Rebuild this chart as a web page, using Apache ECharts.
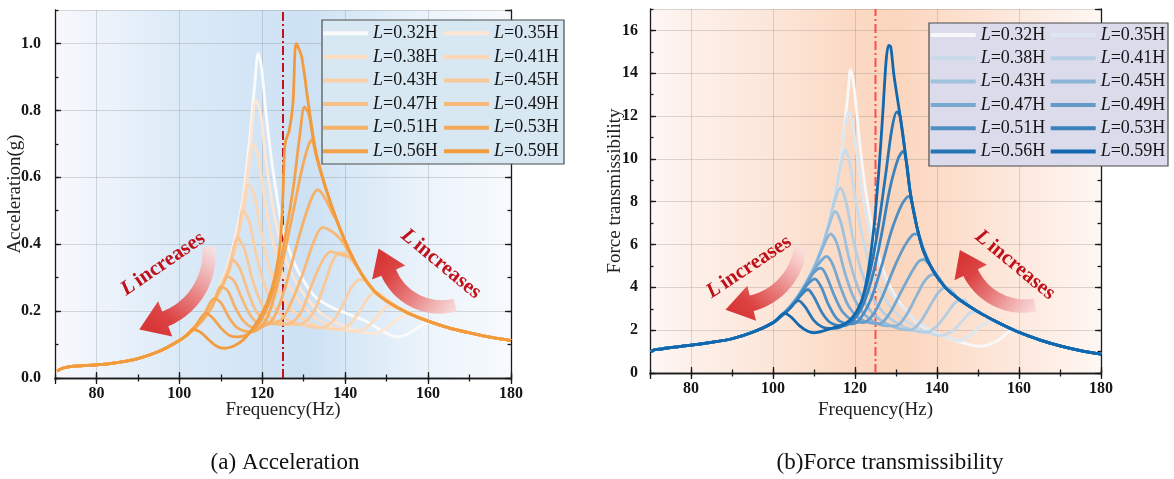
<!DOCTYPE html>
<html>
<head>
<meta charset="utf-8">
<script src="https://cdn.jsdelivr.net/npm/echarts@6.0.0/dist/echarts.min.js"></script>
<style>
  html, body { margin: 0; padding: 0; background: #fff; width: 1174px; height: 479px; overflow: hidden; }
  #accChart { position: absolute; left: 0; top: 0; width: 590px; height: 479px; }
  #ftChart { position: absolute; left: 590px; top: 0; width: 584px; height: 479px; }
</style>
</head>
<body>
<div id="accChart"></div>
<div id="ftChart"></div>
<script>
// ---------- data ----------
const lengthRatios = ['0.32', '0.35', '0.38', '0.41', '0.43', '0.45', '0.47', '0.49', '0.51', '0.53', '0.56', '0.59'];
const seriesNames = lengthRatios.map(r => 'L=' + r + 'H');
const legendColumnA = ['L=0.32H', 'L=0.38H', 'L=0.43H', 'L=0.47H', 'L=0.51H', 'L=0.56H'];
const legendColumnB = ['L=0.35H', 'L=0.41H', 'L=0.45H', 'L=0.49H', 'L=0.53H', 'L=0.59H'];
const excitationFreq = 125;

// Acceleration (g) vs frequency (Hz)
const accLow = [[70.5, 0.021], [72, 0.03], [74, 0.035], [77, 0.037], [80, 0.039], [85, 0.046], [90, 0.058], [95, 0.079], [100, 0.112]];
const accHigh = [[128.6, 1.013], [129.5, 0.96], [131, 0.83], [133, 0.67], [135.5, 0.56], [138, 0.47], [141, 0.38], [144, 0.31], [147, 0.26], [150, 0.23], [155, 0.195], [160, 0.17], [165, 0.15], [170, 0.135], [175, 0.122], [180, 0.112]];

const acc032 = [[102, 0.135], [104, 0.16], [106, 0.19], [108, 0.23], [110, 0.28], [112, 0.35], [114, 0.45], [115.5, 0.55], [117, 0.72], [118.2, 0.88], [119, 0.97], [119.8, 0.93], [121, 0.78], [122.6, 0.62], [125, 0.44], [127.5, 0.35], [130, 0.29], [133, 0.24], [137, 0.21], [141, 0.19], [145, 0.17], [149, 0.14], [152.5, 0.123], [155, 0.13], [157.5, 0.15], [160, 0.165]];
const acc035 = [[102, 0.135], [104, 0.16], [106, 0.19], [108, 0.23], [110, 0.28], [112, 0.345], [114, 0.44], [115.5, 0.54], [117, 0.68], [118.5, 0.83], [119.6, 0.79], [121, 0.64], [123, 0.48], [125.5, 0.36], [128, 0.29], [131, 0.235], [134, 0.195], [138, 0.165], [142, 0.145], [147, 0.132], [150, 0.15], [152.5, 0.175], [155, 0.19], [157, 0.188], [160, 0.172]];
const acc038 = [[102, 0.134], [104, 0.158], [106, 0.188], [108, 0.228], [110, 0.277], [112, 0.34], [114, 0.43], [116, 0.56], [117.8, 0.70], [119, 0.66], [120.5, 0.54], [122.5, 0.41], [125, 0.31], [128, 0.245], [131, 0.2], [134, 0.17], [138, 0.148], [143, 0.138], [146, 0.16], [148.5, 0.195], [150.5, 0.215], [152.5, 0.212], [155, 0.198]];
const acc041 = [[102, 0.133], [104, 0.157], [106, 0.186], [108, 0.226], [110, 0.274], [112, 0.335], [114, 0.42], [115.5, 0.5], [116.6, 0.577], [118, 0.55], [119.5, 0.45], [121.5, 0.34], [124, 0.26], [127, 0.205], [130, 0.175], [134, 0.152], [138, 0.145], [141, 0.16], [143.5, 0.2], [145.5, 0.24], [147.5, 0.255], [150, 0.235]];
const acc043 = [[102, 0.132], [104, 0.156], [106, 0.185], [108, 0.224], [110, 0.27], [112, 0.33], [114, 0.41], [115.3, 0.5], [116.8, 0.47], [118.5, 0.37], [120.5, 0.28], [123, 0.21], [126, 0.175], [130, 0.158], [134, 0.15], [137, 0.17], [139.5, 0.22], [141.5, 0.27], [143.5, 0.295], [145.5, 0.285]];
const acc045 = [[102, 0.131], [104, 0.155], [106, 0.183], [108, 0.222], [110, 0.268], [112, 0.33], [114.1, 0.418], [115.6, 0.39], [117.5, 0.3], [119.5, 0.23], [122, 0.18], [125, 0.163], [128, 0.16], [130, 0.165], [132.5, 0.2], [135, 0.28], [137, 0.35], [138.8, 0.375], [140.5, 0.37], [142.5, 0.34]];
const acc047 = [[102, 0.13], [104, 0.154], [106, 0.182], [108, 0.22], [110, 0.265], [112, 0.32], [112.9, 0.353], [114.5, 0.33], [116.5, 0.26], [118.5, 0.2], [121, 0.17], [124, 0.16], [127, 0.165], [129.5, 0.2], [132, 0.28], [134.5, 0.35], [136.5, 0.378], [138.5, 0.37], [141, 0.36]];
const acc049 = [[102, 0.13], [104, 0.153], [106, 0.18], [108, 0.218], [110, 0.265], [111.7, 0.303], [113.2, 0.29], [115, 0.24], [117, 0.19], [119.5, 0.16], [122.5, 0.163], [125, 0.18], [127.5, 0.24], [130, 0.32], [132.5, 0.41], [134.5, 0.45], [136.5, 0.44], [138.5, 0.42], [141, 0.375]];
const acc051 = [[102, 0.13], [104, 0.152], [106, 0.178], [108, 0.215], [110.1, 0.273], [111.7, 0.26], [113.5, 0.21], [115.5, 0.17], [118, 0.15], [120, 0.153], [122.5, 0.175], [125, 0.25], [127.5, 0.36], [130, 0.47], [132, 0.54], [133.4, 0.563], [135, 0.54], [137, 0.49]];
const acc053 = [[102, 0.13], [104, 0.152], [106, 0.19], [108.4, 0.238], [110, 0.225], [112, 0.18], [114, 0.15], [117.3, 0.138], [119.5, 0.15], [121.5, 0.19], [123.5, 0.27], [125.5, 0.38], [127.5, 0.5], [129.5, 0.62], [131, 0.69], [131.9, 0.712], [133, 0.665], [134.5, 0.6]];
const acc056 = [[102, 0.13], [104, 0.158], [106.4, 0.193], [108, 0.18], [110, 0.15], [112, 0.128], [114.1, 0.123], [116.5, 0.13], [119, 0.16], [121.5, 0.22], [123.5, 0.3], [125.5, 0.42], [127.5, 0.57], [129, 0.72], [130.2, 0.81], [131.2, 0.79], [132.2, 0.72]];
const acc059 = [[102, 0.13], [103.2, 0.145], [105, 0.138], [107, 0.115], [109, 0.095], [110.9, 0.089], [113, 0.095], [115.5, 0.115], [118.5, 0.163], [121, 0.22], [123, 0.3], [124.3, 0.4], [125, 0.55], [125.5, 0.7], [126.5, 0.74], [127.4, 0.82], [128.2, 1.0]];

// Force transmissibility vs frequency (Hz)
const ftLow = [[70.3, 0.98], [71, 1.08], [73, 1.13], [75, 1.19], [80, 1.3], [85, 1.43], [90, 1.6], [95, 1.9], [100, 2.35]];
const ftHigh = [[128.2, 15.3], [128.7, 15.25], [129.5, 13.9], [131, 12.0], [132.5, 9.9], [133.5, 8.4], [135, 6.9], [136.7, 5.7], [139, 4.8], [142, 4.0], [145, 3.5], [148, 3.1], [151, 2.75], [155, 2.35], [160, 1.9], [165, 1.55], [170, 1.27], [175, 1.05], [180, 0.88]];

const ft032 = [[102, 2.7], [104, 3.1], [106, 3.6], [108, 4.25], [110, 5.0], [112, 6.0], [113.5, 7.0], [115, 8.3], [116.5, 10.0], [117.6, 11.8], [118.4, 13.3], [118.9, 14.17], [119.6, 13.6], [120.5, 12.0], [121.7, 9.8], [123, 8.0], [125, 6.0], [127, 4.7], [129, 3.85], [132, 3.0], [136, 2.25], [140, 1.85], [144, 1.55], [148, 1.33], [150.6, 1.25], [153, 1.35], [155.5, 1.6], [158, 1.95]];
const ft035 = [[102, 2.7], [104, 3.1], [106, 3.6], [108, 4.25], [110, 5.0], [112, 6.0], [113.5, 7.0], [115, 8.3], [116.5, 10.0], [117.6, 11.6], [118.4, 12.2], [119.4, 11.6], [120.8, 9.7], [122.5, 7.6], [124.5, 5.9], [127, 4.5], [130, 3.4], [134, 2.6], [138, 2.05], [142, 1.7], [145.5, 1.5], [148, 1.75], [150.5, 2.15], [153, 2.4], [155, 2.35]];
const ft038 = [[102, 2.7], [104, 3.1], [106, 3.6], [108, 4.24], [110, 4.98], [112, 5.95], [113.5, 6.9], [115, 8.2], [116.5, 9.7], [117.6, 10.43], [118.8, 9.7], [120.3, 7.9], [122, 6.2], [124, 4.8], [126.5, 3.7], [129.5, 2.9], [133, 2.35], [137, 1.95], [141, 1.75], [144, 2.0], [146.5, 2.5], [148.5, 2.85], [150.5, 2.85]];
const ft041 = [[102, 2.7], [104, 3.1], [106, 3.58], [108, 4.2], [110, 4.95], [112, 5.9], [113.5, 6.85], [115, 8.0], [116.4, 8.64], [117.8, 8.0], [119.5, 6.3], [121.5, 4.8], [124, 3.6], [127, 2.8], [130.5, 2.3], [134, 2.0], [137.5, 1.9], [140, 2.2], [142.5, 2.8], [144.5, 3.3], [146.5, 3.4]];
const ft043 = [[102, 2.69], [104, 3.08], [106, 3.56], [108, 4.18], [110, 4.9], [112, 5.85], [113.5, 6.8], [115.2, 7.55], [116.6, 7.0], [118.5, 5.4], [120.5, 4.1], [123, 3.1], [126, 2.5], [129.5, 2.15], [133.5, 2.0], [136, 2.4], [138.5, 3.2], [140.5, 3.8], [142.3, 4.0], [144, 3.75]];
const ft045 = [[102, 2.68], [104, 3.06], [106, 3.54], [108, 4.15], [110, 4.85], [112, 5.8], [114.1, 6.5], [115.5, 6.1], [117.5, 4.7], [119.5, 3.6], [122, 2.8], [125, 2.35], [128, 2.2], [130, 2.2], [132.5, 2.7], [135, 3.6], [137, 4.3], [139, 4.6], [140.5, 4.45]];
const ft047 = [[102, 2.67], [104, 3.04], [106, 3.52], [108, 4.1], [110, 4.8], [112, 5.3], [113, 5.45], [114.5, 5.1], [116.5, 4.0], [118.5, 3.1], [121, 2.55], [123.5, 2.35], [126, 2.3], [128.5, 2.8], [131, 3.7], [133.5, 4.6], [135.5, 5.2], [136.7, 5.3], [138, 5.1], [139.5, 4.7]];
const ft049 = [[102, 2.66], [104, 3.02], [106, 3.5], [108, 4.1], [110, 4.7], [111.7, 4.9], [113, 4.55], [115, 3.6], [117, 2.85], [119.5, 2.45], [122, 2.35], [124.5, 2.75], [127, 3.7], [129.5, 4.9], [132, 5.9], [134, 6.45], [135.3, 6.5], [136.5, 5.9]];
const ft051 = [[102, 2.65], [104, 3.0], [106, 3.48], [108, 4.05], [110.2, 4.4], [111.8, 4.0], [113.5, 3.2], [115.5, 2.55], [117.5, 2.32], [119.5, 2.3], [121.5, 2.6], [124, 3.5], [126.5, 5.0], [129, 6.7], [131.5, 7.9], [133.1, 8.25], [134.2, 7.7]];
const ft053 = [[102, 2.65], [104, 3.0], [106, 3.45], [108.5, 3.9], [110, 3.55], [112, 2.8], [114, 2.35], [117, 2.2], [119.5, 2.45], [122, 3.2], [124.5, 4.7], [126.5, 6.5], [128.5, 8.6], [130.5, 10.0], [131.7, 10.35], [132.6, 9.8]];
const ft056 = [[102, 2.65], [104, 3.0], [106.2, 3.38], [107.8, 3.1], [110, 2.45], [112, 2.15], [114, 2.08], [116.5, 2.15], [119, 2.5], [121.5, 3.3], [123.5, 4.6], [125.5, 6.6], [127.5, 9.3], [129, 11.4], [130.2, 12.2], [131, 12.0]];
const ft059 = [[102, 2.7], [102.8, 2.8], [104.5, 2.6], [106.5, 2.2], [108.5, 1.95], [110, 1.88], [112, 1.95], [114.5, 2.1], [117, 2.25], [119.5, 2.6], [121.5, 3.3], [123, 4.5], [124.5, 6.6], [125.8, 9.4], [126.8, 12.2], [127.6, 14.6]];

// ---------- helpers ----------
const SERIF = '"Liberation Serif", "Times New Roman", serif';
const INK = '#1a1a1a';

// full curve = shared low-frequency branch + own middle part + shared high-frequency branch
function joinCurve(low, mid, high) {
  const lastX = mid[mid.length - 1][0];
  return low.concat(mid, high.filter(p => p[0] > lastX + 0.4));
}

function makeAxes(o) {
  const tickStyle = { color: INK, width: 1.3 };
  const lineOn = { show: true, lineStyle: { color: INK, width: 1.3 } };
  const gridLine = { show: true, lineStyle: { color: 'rgba(110,110,110,0.24)', width: 1 } };
  const labelStyle = { fontFamily: SERIF, fontWeight: 'bold', fontSize: 16, color: '#151515' };
  const xCommon = { type: 'value', min: 70, max: 180 };
  const yCommon = { type: 'value', min: 0, max: o.yMax };
  const xAxis = [
    Object.assign({}, xCommon, {
      position: 'bottom', splitNumber: 5, axisLine: lineOn,
      axisTick: { inside: true, length: 6, lineStyle: tickStyle },
      axisLabel: Object.assign({ margin: o.xLabelMargin, showMinLabel: false }, labelStyle),
      splitLine: gridLine,
      name: 'Frequency(Hz)', nameLocation: 'middle', nameGap: o.xNameGap, nameMoveOverlap: false,
      nameTextStyle: { fontFamily: SERIF, fontSize: 19, color: '#222' }
    }),
    Object.assign({}, xCommon, {
      position: 'bottom', interval: 10, axisLine: { show: false },
      axisTick: { inside: true, length: 3.5, lineStyle: tickStyle },
      axisLabel: { show: false }, splitLine: { show: false }
    }),
    Object.assign({}, xCommon, {
      position: 'top', splitNumber: 5, axisLine: lineOn,
      axisTick: { inside: true, length: 6, lineStyle: tickStyle },
      axisLabel: { show: false }, splitLine: { show: false }
    }),
    Object.assign({}, xCommon, {
      position: 'top', interval: 10, axisLine: { show: false },
      axisTick: { inside: true, length: 3.5, lineStyle: tickStyle },
      axisLabel: { show: false }, splitLine: { show: false }
    })
  ];
  const yAxis = [
    Object.assign({}, yCommon, {
      position: 'left', interval: o.yMajor, axisLine: lineOn,
      axisTick: { inside: true, length: 6, lineStyle: tickStyle },
      axisLabel: Object.assign({ margin: o.yLabelMargin, showMaxLabel: false, formatter: o.yFormat }, labelStyle),
      splitLine: gridLine,
      name: o.yName, nameLocation: 'middle', nameGap: o.yNameGap, nameRotate: 90, nameMoveOverlap: false,
      nameTextStyle: { fontFamily: SERIF, fontSize: 19, color: '#222' }
    }),
    Object.assign({}, yCommon, {
      position: 'left', interval: o.yMinor, axisLine: { show: false },
      axisTick: { inside: true, length: 3.5, lineStyle: tickStyle },
      axisLabel: { show: false }, splitLine: { show: false }
    }),
    Object.assign({}, yCommon, {
      position: 'right', interval: o.yMajor, axisLine: lineOn,
      axisTick: { inside: true, length: 6, lineStyle: tickStyle },
      axisLabel: { show: false }, splitLine: { show: false }
    }),
    Object.assign({}, yCommon, {
      position: 'right', interval: o.yMinor, axisLine: { show: false },
      axisTick: { inside: true, length: 3.5, lineStyle: tickStyle },
      axisLabel: { show: false }, splitLine: { show: false }
    })
  ];
  return { xAxis, yAxis };
}

function makeLegends(o) {
  const rich = {
    i: { fontFamily: SERIF, fontStyle: 'italic', fontSize: 18, color: '#151515', lineHeight: 18 },
    n: { fontFamily: SERIF, fontSize: 18, color: '#151515', lineHeight: 18 }
  };
  const base = {
    orient: 'vertical', top: o.top, itemWidth: 45, itemHeight: 4, itemGap: o.gap,
    icon: 'rect', padding: 0, selectedMode: false, z: 10,
    formatter: name => '{i|L}{n|' + name.slice(1) + '}',
    textStyle: { rich }
  };
  return [
    Object.assign({ data: legendColumnA, left: o.leftA }, base),
    Object.assign({ data: legendColumnB, left: o.leftB }, base)
  ];
}

// thick circular-arc arrow; angles in degrees, travelling from a0 (tail) to a1 (head)
function curvedArrow(cx, cy, r, a0, a1, w0, w1, headLen, headW, fill) {
  const rad = Math.PI / 180, outer = [], inner = [], n = 30;
  for (let k = 0; k <= n; k++) {
    const t = k / n, a = (a0 + (a1 - a0) * t) * rad, hw = (w0 + (w1 - w0) * t) / 2;
    outer.push([cx + (r + hw) * Math.cos(a), cy + (r + hw) * Math.sin(a)]);
    inner.push([cx + (r - hw) * Math.cos(a), cy + (r - hw) * Math.sin(a)]);
  }
  const a = a1 * rad, s = Math.sign(a1 - a0);
  const bx = cx + r * Math.cos(a), by = cy + r * Math.sin(a);
  const dx = -Math.sin(a) * s, dy = Math.cos(a) * s, nx = Math.cos(a), ny = Math.sin(a);
  const head = [
    [bx + nx * headW / 2, by + ny * headW / 2],
    [bx + dx * headLen, by + dy * headLen],
    [bx - nx * headW / 2, by - ny * headW / 2]
  ];
  return { type: 'polygon', z: 20, silent: true, shape: { points: outer.concat(head, inner.reverse()) }, style: { fill } };
}

function arrowFill(x, y, x2, y2) {
  return {
    type: 'linear', x, y, x2, y2,
    colorStops: [
      { offset: 0, color: 'rgba(250,222,222,0.85)' },
      { offset: 0.45, color: '#ea8686' },
      { offset: 0.8, color: '#dc4343' },
      { offset: 1, color: '#d83535' }
    ]
  };
}

function trendText(x, y, deg) {
  return {
    type: 'text', x, y, rotation: deg * Math.PI / 180, z: 21, silent: true,
    style: {
      text: '{i|L} {b|increases}', align: 'center', verticalAlign: 'middle',
      rich: {
        i: { fontFamily: SERIF, fontStyle: 'italic', fontWeight: 'bold', fontSize: 21, fill: '#c0101a' },
        b: { fontFamily: SERIF, fontWeight: 'bold', fontSize: 21, fill: '#c0101a' }
      }
    }
  };
}

function caption(x, y, text) {
  return {
    type: 'text', x, y, z: 21, silent: true,
    style: { text, fontFamily: SERIF, fontSize: 23, fill: '#111', align: 'center', verticalAlign: 'middle' }
  };
}

function curveSeries(names, curves, colors, width) {
  return curves.map((data, i) => ({
    type: 'line', name: names[i], data, color: colors[i], smooth: 0.3,
    symbol: 'none', showSymbol: false, silent: true, z: 3,
    lineStyle: { color: colors[i], width }
  }));
}

function markerSeries(yMax, color) {
  return {
    type: 'line', data: [[excitationFreq, 0], [excitationFreq, yMax]], symbol: 'none', silent: true, z: 2,
    lineStyle: { color, width: 2, type: [9, 3, 2, 3] }
  };
}

// ---------- (a) acceleration ----------
const accColors = ['#fbfbfb', '#fde6d3', '#fcdec4', '#fbd7b5', '#facfa6', '#f9c897', '#f8c088', '#f6b978', '#f5b169', '#f4aa5a', '#f3a24b', '#f29b3c'];
const accCurves = [acc032, acc035, acc038, acc041, acc043, acc045, acc047, acc049, acc051, acc053, acc056, acc059]
  .map(mid => joinCurve(accLow, mid, accHigh));

const accAxes = makeAxes({
  yMax: 1.1, yMajor: 0.2, yMinor: 0.1, yFormat: v => v.toFixed(1), yName: 'Acceleration(g)',
  yNameGap: 30, yLabelMargin: 14, xLabelMargin: 8, xNameGap: 23
});

const accChart = echarts.init(document.getElementById('accChart'), null, { renderer: 'canvas' });
accChart.setOption({
  animation: false,
  backgroundColor: '#ffffff',
  grid: {
    left: 55, top: 10, width: 456, height: 368, show: true, borderWidth: 0,
    containLabel: false, outerBoundsMode: 'none',
    backgroundColor: {
      type: 'linear', x: 0, y: 0, x2: 1, y2: 0,
      colorStops: [
        { offset: 0, color: '#f8f8fc' }, { offset: 0.09, color: '#eef4fb' }, { offset: 0.27, color: '#dceaf7' },
        { offset: 0.45, color: '#d2e5f6' }, { offset: 0.55, color: '#cde1f4' }, { offset: 0.64, color: '#d7e8f6' },
        { offset: 0.82, color: '#ecf4fb' }, { offset: 1, color: '#f7fafd' }
      ]
    }
  },
  xAxis: accAxes.xAxis,
  yAxis: accAxes.yAxis,
  legend: makeLegends({ top: 24.3, gap: 5.6, leftA: 323, leftB: 444 }),
  graphic: [
    { type: 'rect', z: 9, silent: true, shape: { x: 322, y: 20, width: 242, height: 144 }, style: { fill: '#d7e8f3', stroke: '#4d4d4d', lineWidth: 1.2 } },
    curvedArrow(139, 254, 70, -6, 68, 13, 16, 28, 38, arrowFill(0.9, 0, 0.1, 0.9)),
    curvedArrow(440.6, 250.5, 56.4, 75, 157, 13, 16, 26, 36, arrowFill(1, 1, 0.1, 0.1)),
    trendText(163, 264, 34.5),
    trendText(441, 264, -39.8),
    caption(285, 463, '(a) Acceleration')
  ],
  series: [markerSeries(1.1, '#c0141c')].concat(curveSeries(seriesNames, accCurves, accColors, 2.8))
});

// ---------- (b) force transmissibility ----------
const ftColors = ['#f8f8fb', '#dde7f0', '#c9dae9', '#b4cee3', '#a0c1dc', '#8bb4d6', '#77a8cf', '#639bc8', '#4e8ec2', '#3a82bb', '#2575b5', '#1168ae'];
const ftCurves = [ft032, ft035, ft038, ft041, ft043, ft045, ft047, ft049, ft051, ft053, ft056, ft059]
  .map(mid => joinCurve(ftLow, mid, ftHigh));

const ftAxes = makeAxes({
  yMax: 17, yMajor: 2, yMinor: 1, yFormat: v => String(v), yName: 'Force transmissibility',
  yNameGap: 25, yLabelMargin: 12, xLabelMargin: 8, xNameGap: 28
});

const ftChart = echarts.init(document.getElementById('ftChart'), null, { renderer: 'canvas' });
ftChart.setOption({
  animation: false,
  backgroundColor: '#ffffff',
  grid: {
    left: 60, top: 9, width: 451, height: 364, show: true, borderWidth: 0,
    containLabel: false, outerBoundsMode: 'none',
    backgroundColor: {
      type: 'linear', x: 0, y: 0, x2: 1, y2: 0,
      colorStops: [
        { offset: 0, color: '#fdf7f5' }, { offset: 0.09, color: '#fdf0ea' }, { offset: 0.27, color: '#fce6d9' },
        { offset: 0.45, color: '#fbd9c3' }, { offset: 0.55, color: '#fbd6be' }, { offset: 0.64, color: '#fcdcc8' },
        { offset: 0.82, color: '#fde9de' }, { offset: 1, color: '#fef7f3' }
      ]
    }
  },
  xAxis: ftAxes.xAxis,
  yAxis: ftAxes.yAxis,
  legend: makeLegends({ top: 26, gap: 5.3, leftA: 340.7, leftB: 460.7 }),
  graphic: [
    { type: 'rect', z: 9, silent: true, shape: { x: 339, y: 23, width: 239, height: 143 }, style: { fill: '#dcdbeb', stroke: '#4d4d4d', lineWidth: 1.2 } },
    curvedArrow(145.9, 240.4, 64.8, 6, 75.9, 13, 16, 27, 36, arrowFill(0.9, 0, 0.1, 0.9)),
    curvedArrow(433.9, 247.1, 59, 79, 154.4, 13, 16, 25, 36, arrowFill(1, 1, 0.1, 0.1)),
    trendText(159, 267, 33.8),
    trendText(425, 265, -39.7),
    caption(300, 463, '(b)Force transmissibility')
  ],
  series: [markerSeries(17, '#ff4d4d')].concat(curveSeries(seriesNames, ftCurves, ftColors, 2.8))
});
</script>
</body>
</html>
